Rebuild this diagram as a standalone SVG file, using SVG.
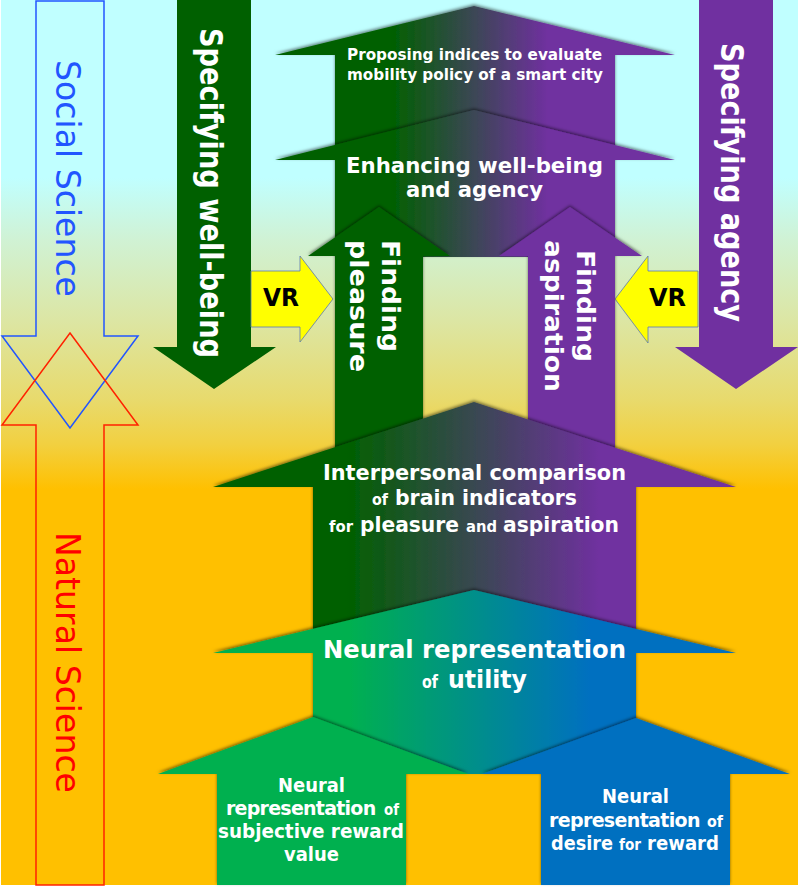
<svg xmlns="http://www.w3.org/2000/svg" width="800" height="889" viewBox="0 0 800 889">
<defs>
<linearGradient id="bg" gradientUnits="userSpaceOnUse" x1="0" y1="0" x2="0" y2="889">
<stop offset="0" stop-color="#C0FFFF"/>
<stop offset="0.2" stop-color="#C0FFFF"/>
<stop offset="0.27" stop-color="#D0F2D4"/>
<stop offset="0.36" stop-color="#DCE6A4"/>
<stop offset="0.45" stop-color="#E8DA6C"/>
<stop offset="0.5" stop-color="#F2D040"/>
<stop offset="0.55" stop-color="#FFC000"/>
<stop offset="1" stop-color="#FFC000"/>
</linearGradient>
<linearGradient id="gpTop" gradientUnits="userSpaceOnUse" x1="390" y1="0" x2="548" y2="0">
<stop offset="0" stop-color="#006000"/>
<stop offset="1" stop-color="#7030A0"/>
</linearGradient>
<linearGradient id="gpMid" gradientUnits="userSpaceOnUse" x1="345" y1="0" x2="600" y2="0">
<stop offset="0" stop-color="#006000"/>
<stop offset="1" stop-color="#7030A0"/>
</linearGradient>
<linearGradient id="gbUtil" gradientUnits="userSpaceOnUse" x1="350" y1="0" x2="590" y2="0">
<stop offset="0" stop-color="#00B050"/>
<stop offset="1" stop-color="#0070C0"/>
</linearGradient>
<filter id="sh" x="-10%" y="-10%" width="120%" height="120%">
<feDropShadow dx="0" dy="-1.5" stdDeviation="1.5" flood-color="#000" flood-opacity="0.5"/>
</filter>
</defs>
<style>
.b{font-family:"DejaVu Sans","Liberation Sans",sans-serif;font-weight:bold;fill:#FFFFFF}
.r{font-family:"DejaVu Sans","Liberation Sans",sans-serif;font-weight:normal}
.vr{font-family:"DejaVu Sans","Liberation Sans",sans-serif;font-weight:bold;fill:#000000}
.vrs{fill:#FFFF00;stroke:#5A78B4;stroke-width:0.8}
.sh{filter:url(#sh)}
</style>
<rect x="0" y="0" width="800" height="889" fill="#FFFFFF"/>
<rect x="1" y="0" width="797" height="885" fill="url(#bg)"/>

<g id="social-science">
<polygon points="36,1 104,1 104,336 138,336 70,428 2,336 36,336" fill="none" stroke="#2255FF" stroke-width="1.5"/>
<text class="r" transform="translate(56,60) rotate(90)" x="0" y="0" font-size="33" fill="#2255FF" textLength="237" lengthAdjust="spacingAndGlyphs">Social Science</text>
</g>
<g id="natural-science">
<polygon points="70,333 138,425 104,425 104,885 36,885 36,425 2,425" fill="none" stroke="#FF2200" stroke-width="1.5"/>
<text class="r" transform="translate(56,532) rotate(90)" x="0" y="0" font-size="33" fill="#FF0000" textLength="261" lengthAdjust="spacingAndGlyphs">Natural Science</text>
</g>

<g id="specifying-well-being">
<polygon points="177,0 251,0 251,347 276,347 214,389 153,347 177,347" fill="#006000"/>
<text class="b" transform="translate(200,28) rotate(90)" x="0" y="0" font-size="32" textLength="330" lengthAdjust="spacingAndGlyphs">Specifying well-being</text>
</g>
<g id="specifying-agency">
<polygon points="699,0 773,0 773,347 798,347 736,389 675,347 699,347" fill="#7030A0"/>
<text class="b" transform="translate(721,43) rotate(90)" x="0" y="0" font-size="32" textLength="279" lengthAdjust="spacingAndGlyphs">Specifying agency</text>
</g>

<g id="vr-left">
<polygon class="vrs" points="251,271 300,271 300,256 333,299 300,342 300,327 251,327"/>
<text class="vr" x="263" y="306" font-size="25" textLength="36" lengthAdjust="spacingAndGlyphs">VR</text>
</g>
<g id="vr-right">
<polygon class="vrs" points="698,271 648,271 648,256 615,299 648,343 648,327 698,327"/>
<text class="vr" x="649" y="306" font-size="25" textLength="37" lengthAdjust="spacingAndGlyphs">VR</text>
</g>

<g id="proposing-indices">
<polygon class="sh" points="474,6 675,55 615,55 615,160 335,160 335,55 275,55" fill="url(#gpTop)"/>
<text class="b" x="347" y="60" font-size="15" textLength="255" lengthAdjust="spacingAndGlyphs">Proposing indices to evaluate</text>
<text class="b" x="347" y="80" font-size="15" textLength="256" lengthAdjust="spacingAndGlyphs">mobility policy of a smart city</text>
</g>
<g id="enhancing">
<polygon class="sh" points="474,110 675,160 615,160 615,257 335,257 335,160 275,160" fill="url(#gpTop)"/>
<text class="b" x="346" y="173" font-size="22" textLength="257" lengthAdjust="spacingAndGlyphs">Enhancing well-being</text>
<text class="b" x="406" y="197" font-size="22" textLength="137" lengthAdjust="spacingAndGlyphs">and agency</text>
</g>
<g id="finding-pleasure">
<polygon class="sh" points="379,207 450,256 423,256 423,487 335,487 335,256 308,256" fill="#006000"/>
<text class="b" transform="translate(382,240) rotate(90)" x="0" y="0" font-size="25" textLength="112" lengthAdjust="spacingAndGlyphs">Finding</text>
<text class="b" transform="translate(350,240) rotate(90)" x="0" y="0" font-size="25" textLength="132" lengthAdjust="spacingAndGlyphs">pleasure</text>
</g>
<g id="finding-aspiration">
<polygon class="sh" points="570,207 642,256 615,256 615,487 528,487 528,256 499,256" fill="#7030A0"/>
<text class="b" transform="translate(577,250) rotate(90)" x="0" y="0" font-size="25" textLength="112" lengthAdjust="spacingAndGlyphs">Finding</text>
<text class="b" transform="translate(545,240) rotate(90)" x="0" y="0" font-size="25" textLength="152" lengthAdjust="spacingAndGlyphs">aspiration</text>
</g>
<g id="interpersonal-comparison">
<polygon class="sh" points="474,402 736,487 636,487 636,653 313,653 313,487 213,487" fill="url(#gpMid)"/>
<text class="b" x="323" y="480" font-size="21" textLength="303" lengthAdjust="spacingAndGlyphs">Interpersonal comparison</text>
<text class="b" x="372" y="505" font-size="16" textLength="16" lengthAdjust="spacingAndGlyphs">of</text>
<text class="b" x="395" y="505" font-size="21" textLength="182" lengthAdjust="spacingAndGlyphs">brain indicators</text>
<text class="b" x="329" y="532" font-size="16" textLength="24" lengthAdjust="spacingAndGlyphs">for</text>
<text class="b" x="360" y="532" font-size="21" textLength="99" lengthAdjust="spacingAndGlyphs">pleasure</text>
<text class="b" x="466" y="532" font-size="16" textLength="31" lengthAdjust="spacingAndGlyphs">and</text>
<text class="b" x="503" y="532" font-size="21" textLength="116" lengthAdjust="spacingAndGlyphs">aspiration</text>
</g>
<g id="utility">
<polygon class="sh" points="474,590 736,653 636,653 636,774 313,774 313,653 213,653" fill="url(#gbUtil)"/>
<text class="b" x="323" y="658" font-size="25" textLength="303" lengthAdjust="spacingAndGlyphs">Neural representation</text>
<text class="b" x="422" y="688" font-size="18" textLength="16" lengthAdjust="spacingAndGlyphs">of</text>
<text class="b" x="448" y="688" font-size="25" textLength="79" lengthAdjust="spacingAndGlyphs">utility</text>
</g>
<g id="subjective-reward">
<polygon class="sh" points="313,717 468,774 406,774 406,885 217,885 217,774 158,774" fill="#00B050"/>
<text class="b" x="278" y="792" font-size="20" textLength="67" lengthAdjust="spacingAndGlyphs">Neural</text>
<text class="b" x="226" y="815" font-size="19" letter-spacing="-0.75">representation</text>
<text class="b" x="384" y="815" font-size="15" textLength="15" lengthAdjust="spacingAndGlyphs">of</text>
<text class="b" x="218" y="838" font-size="20" textLength="186" lengthAdjust="spacingAndGlyphs">subjective reward</text>
<text class="b" x="284" y="861" font-size="20" textLength="55" lengthAdjust="spacingAndGlyphs">value</text>
</g>
<g id="desire-reward">
<polygon class="sh" points="636,718 790,774 730,774 730,885 541,885 541,774 482,774" fill="#0070C0"/>
<text class="b" x="602" y="803" font-size="20" textLength="67" lengthAdjust="spacingAndGlyphs">Neural</text>
<text class="b" x="549" y="827" font-size="19" letter-spacing="-0.65">representation</text>
<text class="b" x="707" y="827" font-size="15" textLength="16" lengthAdjust="spacingAndGlyphs">of</text>
<text class="b" x="551" y="850" font-size="20" textLength="62" lengthAdjust="spacingAndGlyphs">desire</text>
<text class="b" x="619" y="850" font-size="15" textLength="22" lengthAdjust="spacingAndGlyphs">for</text>
<text class="b" x="647" y="850" font-size="20" textLength="72" lengthAdjust="spacingAndGlyphs">reward</text>
</g>
<g id="connectors"></g>
</svg>
